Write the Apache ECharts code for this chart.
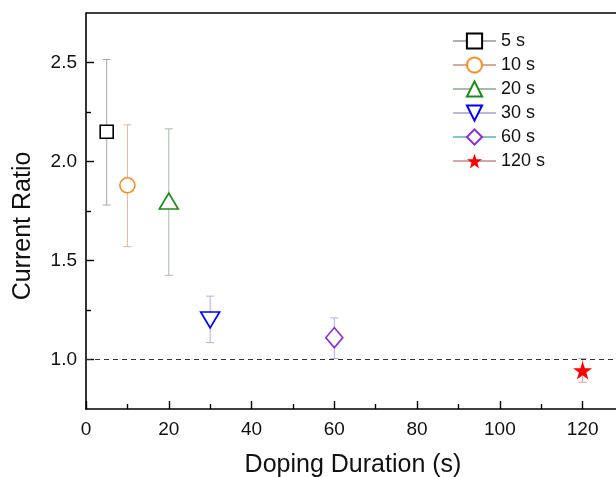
<!DOCTYPE html>
<html>
<head>
<meta charset="utf-8">
<script src="https://cdn.jsdelivr.net/npm/echarts@6/dist/echarts.min.js"></script>
<style>
  html, body { margin: 0; padding: 0; background: #fff; }
  #chart { width: 616px; height: 477px; }
</style>
</head>
<body>
<div id="chart"></div>
<script>
// Doping duration groups (s) and measured current ratio with error ranges
const labels    = ['5 s', '10 s', '20 s', '30 s', '60 s', '120 s'];
const durations = [5, 10, 20, 30, 60, 120];
const ratios    = [2.15, 1.88, 1.80, 1.20, 1.11, 0.945];
const errLow    = [1.78, 1.57, 1.425, 1.085, 1.005, 0.885];
const errHigh   = [2.515, 2.185, 2.165, 1.32, 1.21, 1.005];
const xTicks    = [0, 20, 40, 60, 80, 100, 120];
const yTicks    = [1.0, 1.5, 2.0, 2.5];
const yMinor    = [1.25, 1.75, 2.25];

const markerColors = ['#000000', '#ff8c1a', '#1a8c1a', '#0000ff', '#8a2be2', '#ff0000'];
const barColors    = ['#a6a6a6', '#d9b89c', '#a9baa9', '#aeaee0', '#bfa6e6', '#d9a0a0'];
const legendLines  = ['#b0b0b0', '#d4ab94', '#a9bca9', '#b8b8d8', '#84c4c4', '#d4a8a8'];
const STAR = 'path://M50,0 L61.8,35.1 L98.9,35.1 L69.1,57.3 L79.4,92.7 L50,71 L20.6,92.7 L30.9,57.3 L1.1,35.1 L38.2,35.1 Z';
const symbols  = ['rect', 'circle', 'triangle', 'triangle', 'diamond', STAR];
const rotates  = [0, 0, 0, 180, 0, 0];
const sizes    = [[13, 13], [15, 15], [19, 16], [19, 16], [17, 20], [19, 18]];

const FONT = 'Liberation Sans, Arial, sans-serif';
const series = [];

// error bars, drawn beneath the markers
labels.forEach((name, i) => {
  series.push({
    type: 'custom',
    name: name + ' err',
    z: 1,
    silent: true,
    data: [[durations[i], errLow[i], errHigh[i]]],
    renderItem: (params, api) => {
      const lo = api.coord([api.value(0), api.value(1)]);
      const hi = api.coord([api.value(0), api.value(2)]);
      const cap = 4;
      const style = { stroke: barColors[i], lineWidth: 1 };
      return {
        type: 'group',
        children: [
          { type: 'line', shape: { x1: lo[0], y1: lo[1], x2: hi[0], y2: hi[1] }, style },
          { type: 'line', shape: { x1: lo[0] - cap, y1: lo[1], x2: lo[0] + cap, y2: lo[1] }, style },
          { type: 'line', shape: { x1: hi[0] - cap, y1: hi[1], x2: hi[0] + cap, y2: hi[1] }, style }
        ]
      };
    }
  });
});

// markers
labels.forEach((name, i) => {
  const filled = i === 5;
  series.push({
    type: 'line',
    name: name,
    z: 3,
    data: [[durations[i], ratios[i]]],
    symbol: symbols[i],
    symbolSize: sizes[i],
    symbolRotate: rotates[i],
    showSymbol: true,
    lineStyle: { color: legendLines[i], width: 1 },
    itemStyle: filled
      ? { color: markerColors[i], borderWidth: 0 }
      : { color: '#ffffff', borderColor: markerColors[i], borderWidth: 1.6 },
    emphasis: { disabled: true }
  });
});

// reference line at ratio = 1
series.push({
  type: 'line',
  name: 'ref',
  data: [],
  markLine: {
    silent: true,
    symbol: 'none',
    label: { show: false },
    lineStyle: { color: '#333', type: [5, 4], width: 1 },
    data: [{ yAxis: 1.0 }]
  }
});

const chart = echarts.init(document.getElementById('chart'), null, { renderer: 'canvas' });
chart.setOption({
  animation: false,
  backgroundColor: '#fff',
  textStyle: { fontFamily: FONT },
  grid: {
    left: 86, top: 13, right: -8, bottom: 68,
    show: false, containLabel: false, outerBoundsMode: 'none'
  },
  legend: {
    data: labels,
    orient: 'vertical',
    left: 447,
    top: 27,
    itemWidth: 43,
    itemHeight: 19,
    itemGap: 6,
    textStyle: { fontSize: 18, color: '#111', fontFamily: FONT }
  },
  xAxis: {
    type: 'value',
    min: 0,
    max: 130,
    interval: 20,
    name: 'Doping Duration (s)',
    nameLocation: 'middle',
    nameGap: 44,
    nameTextStyle: { fontSize: 25, color: '#111', padding: [0, 4, 0, 0] },
    axisLine: { lineStyle: { color: '#000', width: 1.6 } },
    axisTick: { inside: true, length: 8, lineStyle: { color: '#000', width: 1.4 } },
    minorTick: { show: true, splitNumber: 2, length: 5, lineStyle: { color: '#000', width: 1.4 } },
    axisLabel: {
      fontSize: 19, color: '#111', margin: 11,
      formatter: v => (xTicks.includes(v) ? String(v) : '')
    },
    splitLine: { show: false }
  },
  yAxis: [{
    type: 'value',
    min: 0.75,
    max: 2.75,
    name: 'Current Ratio',
    nameLocation: 'middle',
    nameGap: 50,
    nameTextStyle: { fontSize: 25, color: '#111', padding: [0, 30, 0, 0] },
    axisLine: { show: true, lineStyle: { color: '#000', width: 1.6 } },
    axisTick: { inside: true, length: 8, customValues: yTicks, lineStyle: { color: '#000', width: 1.4 } },
    axisLabel: {
      fontSize: 19, color: '#111', margin: 9,
      customValues: yTicks,
      formatter: v => v.toFixed(1)
    },
    splitLine: { show: false }
  }, {
    // minor ticks between the labelled values
    type: 'value',
    position: 'left',
    min: 0.75,
    max: 2.75,
    axisLine: { show: false },
    axisTick: { show: true, inside: true, length: 5, customValues: yMinor, lineStyle: { color: '#000', width: 1.4 } },
    axisLabel: { show: false },
    splitLine: { show: false }
  }],
  series: series
});

// top frame line of the plot box
const topY = chart.convertToPixel({ yAxisIndex: 0 }, 2.75);
chart.setOption({
  graphic: [{
    type: 'line',
    shape: { x1: 86, y1: topY, x2: 616, y2: topY },
    style: { stroke: '#000', lineWidth: 1.6 },
    z: 10
  }]
});
</script>
</body>
</html>
